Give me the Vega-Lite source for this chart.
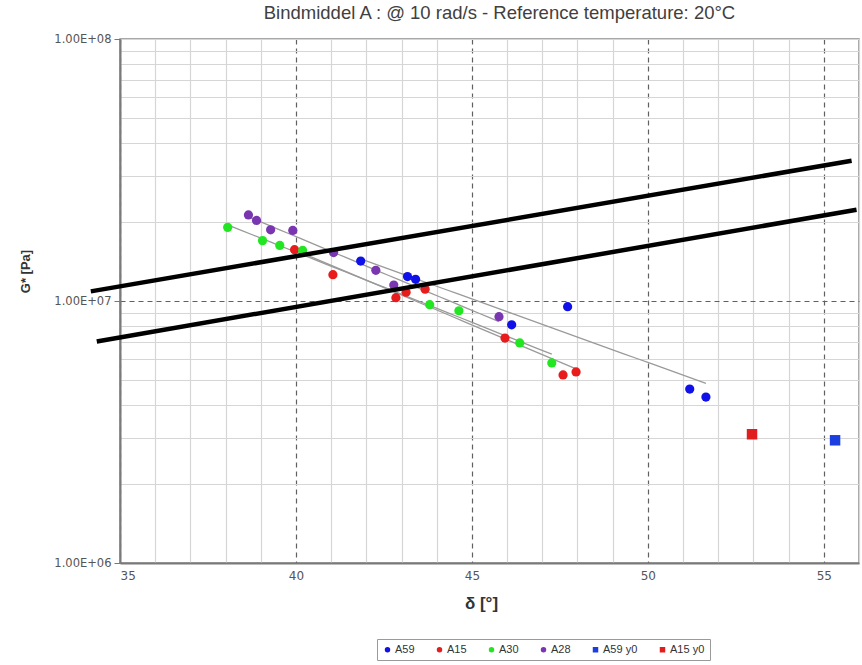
{
  "$schema": "https://vega.github.io/schema/vega-lite/v6.json",
  "autosize": {"type": "none"},
  "padding": {"left": 120, "top": 39, "right": 3, "bottom": 102},
  "width": 739,
  "height": 524,
  "background": "white",
  "config": {
    "view": {"stroke": "#8a8a8a", "strokeWidth": 1.5},
    "font": "Liberation Sans"
  },
  "title": {
    "text": "Bindmiddel A : @ 10 rad/s - Reference temperature: 20°C",
    "font": "Liberation Sans",
    "fontSize": 18.5,
    "fontWeight": "normal",
    "color": "#404040",
    "anchor": "middle",
    "dx": 10,
    "offset": 11
  },
  "datasets": {
    "pts": [
      {"series": "A59", "delta": 41.84, "G": 14200000},
      {"series": "A59", "delta": 43.17, "G": 12400000},
      {"series": "A59", "delta": 43.40, "G": 12100000},
      {"series": "A59", "delta": 46.13, "G": 8110000},
      {"series": "A59", "delta": 47.72, "G": 9510000},
      {"series": "A59", "delta": 51.19, "G": 4610000},
      {"series": "A59", "delta": 51.65, "G": 4300000},
      {"series": "A15", "delta": 39.96, "G": 15700000},
      {"series": "A15", "delta": 41.05, "G": 12600000},
      {"series": "A15", "delta": 42.84, "G": 10300000},
      {"series": "A15", "delta": 43.13, "G": 10800000},
      {"series": "A15", "delta": 43.67, "G": 11100000},
      {"series": "A15", "delta": 45.94, "G": 7220000},
      {"series": "A15", "delta": 47.59, "G": 5220000},
      {"series": "A15", "delta": 47.96, "G": 5360000},
      {"series": "A30", "delta": 38.06, "G": 19100000},
      {"series": "A30", "delta": 39.05, "G": 17000000},
      {"series": "A30", "delta": 39.54, "G": 16300000},
      {"series": "A30", "delta": 40.19, "G": 15600000},
      {"series": "A30", "delta": 43.80, "G": 9680000},
      {"series": "A30", "delta": 44.63, "G": 9180000},
      {"series": "A30", "delta": 46.36, "G": 6920000},
      {"series": "A30", "delta": 47.27, "G": 5800000},
      {"series": "A28", "delta": 38.65, "G": 21300000},
      {"series": "A28", "delta": 38.88, "G": 20300000},
      {"series": "A28", "delta": 39.28, "G": 18700000},
      {"series": "A28", "delta": 39.91, "G": 18600000},
      {"series": "A28", "delta": 41.07, "G": 15300000},
      {"series": "A28", "delta": 42.27, "G": 13100000},
      {"series": "A28", "delta": 42.78, "G": 11500000},
      {"series": "A28", "delta": 45.77, "G": 8710000},
      {"series": "A59 y0", "delta": 55.32, "G": 2940000},
      {"series": "A15 y0", "delta": 52.96, "G": 3100000}
    ],
    "bl": [
      {"line": "upper", "delta": 34.17, "G": 10880000},
      {"line": "upper", "delta": 55.79, "G": 34300000},
      {"line": "lower", "delta": 34.34, "G": 7010000},
      {"line": "lower", "delta": 55.93, "G": 22300000}
    ]
  },
  "encoding": {
    "x": {
      "field": "delta",
      "type": "quantitative",
      "scale": {"domain": [35, 56], "nice": false, "zero": false},
      "axis": {
        "title": "δ [°]",
        "titleFont": "Liberation Sans",
        "titleFontSize": 17,
        "titleFontWeight": "bold",
        "titleColor": "#333333",
        "titlePadding": 14,
        "titleX": 361,
        "values": [35,36,37,38,39,40,41,42,43,44,45,46,47,48,49,50,51,52,53,54,55,56],
        "labelExpr": "datum.value % 5 == 0 ? datum.value : ''",
        "labelFont": "DejaVu Sans",
        "labelFontSize": 12,
        "labelColor": "#555555",
        "labelPadding": 7,
        "ticks": false,
        "domainColor": "#7a7a7a",
        "domainWidth": 2,
        "grid": true,
        "gridColor": {"condition": {"test": "datum.value % 5 == 0", "value": "#606060"}, "value": "#d6d6d6"},
        "gridDash": {"condition": {"test": "datum.value % 5 == 0", "value": [5, 4]}, "value": [1, 0]},
        "gridWidth": 1.2
      }
    },
    "y": {
      "field": "G",
      "type": "quantitative",
      "scale": {"type": "log", "domain": [1000000, 100000000], "nice": false},
      "axis": {
        "title": "G* [Pa]",
        "titleFont": "Liberation Sans",
        "titleFontSize": 13,
        "titleFontWeight": "bold",
        "titleColor": "#333333",
        "titleX": -88,
        "titleY": 232,
        "values": [1000000,2000000,3000000,4000000,5000000,6000000,7000000,8000000,9000000,10000000,20000000,30000000,40000000,50000000,60000000,70000000,80000000,90000000,100000000],
        "labelExpr": "datum.value == 1000000 ? '1.00E+06' : datum.value == 10000000 ? '1.00E+07' : datum.value == 100000000 ? '1.00E+08' : ''",
        "labelFont": "DejaVu Sans",
        "labelFontSize": 11.5,
        "labelColor": "#555555",
        "labelPadding": 3,
        "ticks": true,
        "tickColor": "#777777",
        "tickSize": {"condition": {"test": "datum.value == 1000000 || datum.value == 10000000 || datum.value == 100000000", "value": 6}, "value": 0},
        "domainColor": "#7a7a7a",
        "domainWidth": 2,
        "grid": true,
        "gridColor": {"condition": {"test": "datum.value == 10000000", "value": "#606060"}, "value": "#d6d6d6"},
        "gridDash": {"condition": {"test": "datum.value == 10000000", "value": [5, 4]}, "value": [1, 0]},
        "gridWidth": 1.2
      }
    }
  },
  "layer": [
    {
      "data": {"name": "pts"},
      "transform": [
        {"filter": "indexof(['A59','A15','A30','A28'], datum.series) >= 0"},
        {"regression": "G", "on": "delta", "groupby": ["series"], "method": "exp"}
      ],
      "mark": {"type": "line", "color": "#9a9a9a", "strokeWidth": 1.3},
      "encoding": {"detail": {"field": "series"}}
    },
    {
      "data": {"name": "pts"},
      "mark": {"type": "point", "filled": true, "opacity": 1, "size": 85},
      "encoding": {
        "color": {
          "field": "series",
          "type": "nominal",
          "scale": {
            "domain": ["A59", "A15", "A30", "A28", "A59 y0", "A15 y0"],
            "range": ["#1010e8", "#e81c1c", "#22e622", "#7a36b0", "#1a3ee0", "#e01e1e"]
          },
          "legend": {
            "title": null,
            "orient": "none",
            "legendX": 257,
            "legendY": 600,
            "direction": "horizontal",
            "columns": 6,
            "labelFont": "Liberation Sans",
            "labelFontSize": 11,
            "labelColor": "#333333",
            "symbolSize": 30,
            "symbolStrokeWidth": 0,
            "columnPadding": 19,
            "labelOffset": 2,
            "strokeColor": "#9a9a9a",
            "padding": 5
          }
        },
        "shape": {
          "field": "series",
          "type": "nominal",
          "scale": {
            "domain": ["A59", "A15", "A30", "A28", "A59 y0", "A15 y0"],
            "range": ["circle", "circle", "circle", "circle", "square", "square"]
          }
        },
        "size": {
          "condition": {"test": "datum.series == 'A59 y0' || datum.series == 'A15 y0'", "value": 110},
          "value": 85
        }
      }
    },
    {
      "data": {"name": "bl"},
      "mark": {"type": "line", "color": "black", "strokeWidth": 4.5, "strokeCap": "butt"},
      "encoding": {"detail": {"field": "line"}}
    }
  ]
}
